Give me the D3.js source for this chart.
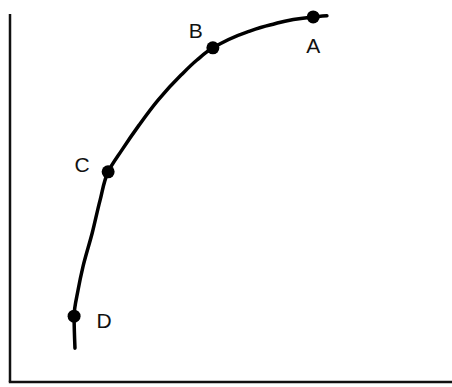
<!DOCTYPE html>
<html>
<head>
<meta charset="utf-8">
<script src="https://cdn.jsdelivr.net/npm/d3@7"></script>
<style>
  body { margin: 0; background: #fff; }
  svg { display: block; }
</style>
</head>
<body>
<div id="chart"></div>
<script>
// curve (top end first), in 0-100 units on both axes
var curveX = [71.7, 68.6, 58.8, 53.6, 45.9, 42.3, 38.7, 33.5, 29.2, 25.3, 22.2, 20.4, 18.6, 16.5, 15.4, 14.5, 14.7]
var curveY = [99.5, 99.2, 97.0, 95.1, 90.8, 87.5, 83.4, 76.6, 69.8, 63.0, 57.1, 49.5, 40.5, 31.3, 25.0, 17.9, 9.2]

// labelled points on the curve
var pointNames = ["A", "B", "C", "D"]
var pointX = [68.6, 45.9, 22.2, 14.5]
var pointY = [99.2, 90.8, 57.1, 17.9]
// label offsets (px) relative to each point
var labelDx = [0, -17, -26, 30]
var labelDy = [29, -17, -7, 4]

var width = 452
var height = 387

var svg = d3.select("#chart")
    .append("svg")
    .attr("width", width)
    .attr("height", height)

var x = d3.scaleLinear().domain([0, 100]).range([10, 452])
var y = d3.scaleLinear().domain([0, 100]).range([382, 14])

// axes drawn as plain lines, no ticks
svg.append("line")
    .attr("x1", x(0)).attr("x2", x(0))
    .attr("y1", y(100)).attr("y2", y(0))
    .attr("stroke", "#111").attr("stroke-width", 2.5)

svg.append("line")
    .attr("x1", x(0) - 1.2).attr("x2", x(100))
    .attr("y1", y(0)).attr("y2", y(0))
    .attr("stroke", "#111").attr("stroke-width", 2.5)

var pts = curveX.map((d, i) => { return [d, curveY[i]] })

var line = d3.line()
    .x((d) => { return x(d[0]) })
    .y((d) => { return y(d[1]) })
    .curve(d3.curveMonotoneY)

svg.append("path")
    .datum(pts)
    .attr("d", line)
    .attr("fill", "none")
    .attr("stroke", "#000")
    .attr("stroke-width", 3.5)
    .attr("stroke-linecap", "round")

var points = pointNames.map((n, i) => {
    return {name: n, x: pointX[i], y: pointY[i], dx: labelDx[i], dy: labelDy[i]}
})

svg.append("g")
    .selectAll("circle")
    .data(points)
    .enter()
    .append("circle")
    .attr("cx", (d) => { return x(d.x) })
    .attr("cy", (d) => { return y(d.y) })
    .attr("r", 6.5)
    .attr("fill", "#000")

svg.append("g")
    .selectAll("text")
    .data(points)
    .enter()
    .append("text")
    .attr("x", (d) => { return x(d.x) + d.dx })
    .attr("y", (d) => { return y(d.y) + d.dy })
    .attr("text-anchor", "middle")
    .attr("dominant-baseline", "central")
    .attr("font-family", "Liberation Sans, Arial, sans-serif")
    .attr("font-size", 21)
    .attr("fill", "#111")
    .text((d) => { return d.name })
</script>
</body>
</html>
